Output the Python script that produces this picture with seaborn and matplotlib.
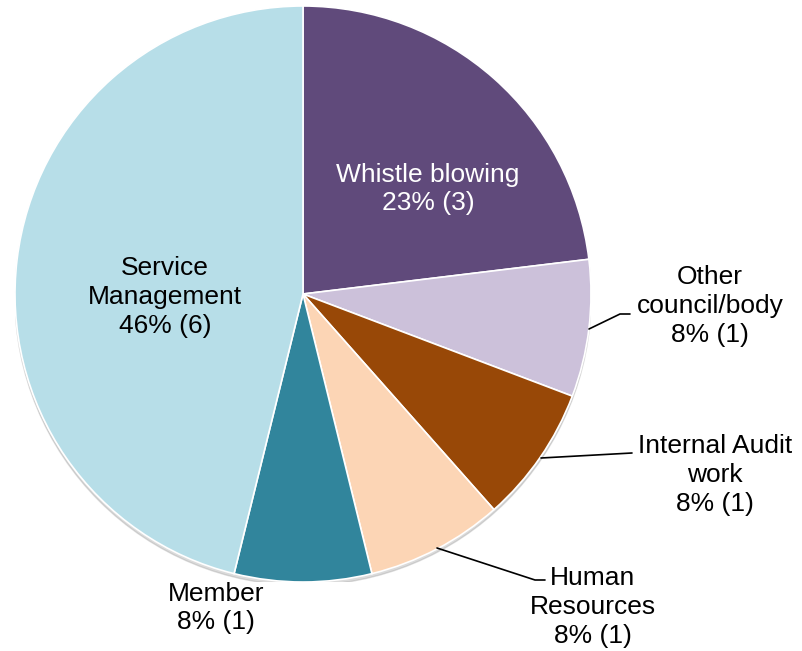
import matplotlib
matplotlib.use("Agg")
import matplotlib.pyplot as plt
import seaborn as sns

categories = ["Whistle blowing", "Other council/body", "Internal Audit work",
              "Human Resources", "Member", "Service Management"]
counts = [3, 1, 1, 1, 1, 6]
percents = [23, 8, 8, 8, 8, 46]
label_text = ["Whistle blowing", "Other\ncouncil/body", "Internal Audit\nwork",
              "Human\nResources", "Member", "Service\nManagement"]
colors = ["#604A7B", "#CCC1DA", "#984807", "#FCD5B5", "#31859C", "#B7DEE8"]

sns.set_theme(style="white")
plt.rcParams['font.family'] = ['Liberation Sans', 'DejaVu Sans']

W, H = 802, 651
fig = plt.figure(figsize=(W / 100, H / 100), dpi=100)
cx, cy, R = 303, 294, 288
ax = fig.add_axes([(cx - R) / W, (H - cy - R) / H, 2 * R / W, 2 * R / H])

def p2d(px, py):
    return ((px - cx) / R, (cy - py) / R)

# subtle shadow
shadow = plt.Circle((0.0, -0.012), 1.0, color="#9a9a9a", alpha=0.35, zorder=0)
ax.add_patch(shadow)

wedges, _ = ax.pie(counts, colors=colors, startangle=90, counterclock=False,
                   radius=1.0, wedgeprops=dict(edgecolor="white", linewidth=1.2))
for w in wedges:
    w.set_zorder(1)

# label placements (pixel coords of text centres)
positions = [(428, 189), (710, 306), (715, 475), (593, 607), (216, 608), (165, 297)]
text_colors = ["white", "black", "black", "black", "black", "black"]
for lab, pct, n, pos, tc in zip(label_text, percents, counts, positions, text_colors):
    x, y = p2d(*pos)
    ax.text(x, y, f"{lab}\n{pct}% ({n})", ha="center", va="center",
            fontsize=19, color=tc, linespacing=1.24, zorder=3)

# leader lines (pixel coords)
leaders = [
    [(589, 329), (620, 314), (630, 314)],
    [(541, 458), (632, 453)],
    [(437, 548), (535, 580), (545, 580)],
]
for pts in leaders:
    xs, ys = zip(*[p2d(*p) for p in pts])
    ax.plot(xs, ys, color="black", linewidth=1.2, zorder=2, clip_on=False)

ax.set_xlim(-1, 1)
ax.set_ylim(-1, 1)
ax.set_aspect("equal")
ax.axis("off")

fig.savefig("out.png", dpi=100, facecolor="white")
